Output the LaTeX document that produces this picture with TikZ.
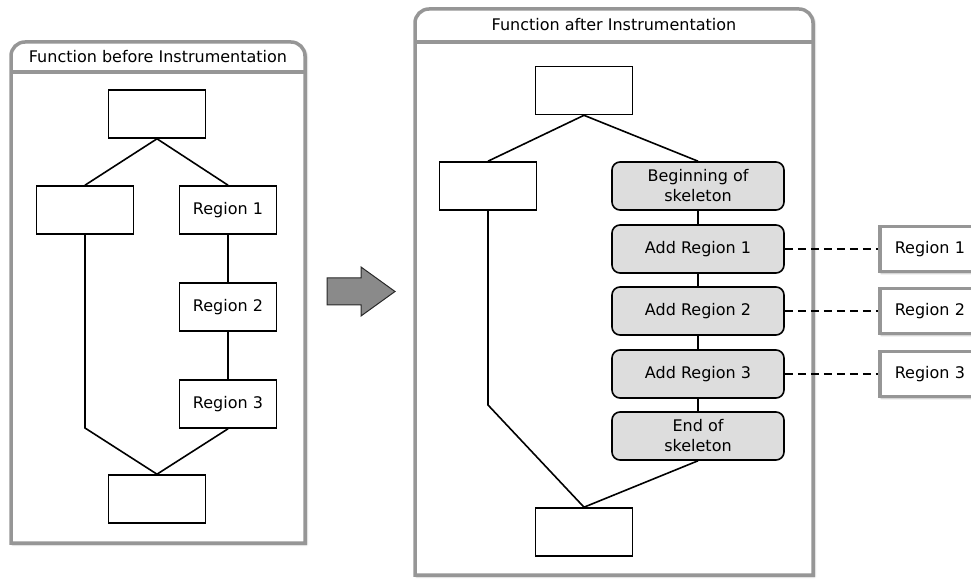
\documentclass[tikz,border=0pt]{standalone}
\usepackage{fontspec}
\setmainfont{DejaVu Sans}
\usetikzlibrary{shadows.blur}
\definecolor{framegray}{RGB}{150,150,150}
\definecolor{stepfill}{RGB}{221,221,221}
\definecolor{arrowfill}{RGB}{138,138,138}
\definecolor{arrowline}{RGB}{40,40,40}

\begin{document}
\begin{tikzpicture}[x=1pt,y=1pt,
  every node/.style={font=\fontsize{16}{20}\selectfont},
  softshadow/.style={blur shadow={shadow xshift=1.5pt, shadow yshift=-1.5pt,
      shadow blur steps=6, shadow blur radius=2pt, shadow opacity=45}},
  blockbox/.style={draw=black, line width=1.6pt, fill=white,
      minimum width=97pt, minimum height=48pt, inner sep=0pt, align=center},
  skelbox/.style={draw=black, line width=1.6pt, fill=stepfill, rounded corners=8pt,
      minimum width=172pt, minimum height=48pt, inner sep=0pt, align=center},
  extbox/.style={draw=framegray, line width=3.5pt, fill=white, softshadow,
      minimum width=112pt, minimum height=45pt, anchor=west,
      text width=82pt, inner xsep=15pt, inner ysep=0pt, align=left},
  frame/.style={draw=framegray, line width=3.5pt, fill=white, softshadow},
  divider/.style={draw=framegray, line width=3.5pt},
  flow/.style={draw=black, line width=1.6pt},
  link/.style={draw=black, line width=1.5pt, dash pattern=on 8pt off 5pt}
]
\useasboundingbox (0,0) rectangle (971,578);
\clip (0,0) rectangle (971,578);

% ---------- left frame: function before instrumentation ----------
\path[frame] (11,35) -- (11,522) arc[start angle=180,end angle=90,radius=14]
  -- (291,536) arc[start angle=90,end angle=0,radius=14] -- (305,35) -- cycle;
\draw[divider] (11,506) -- (305,506);
\node (titleA) at (158,521) {Function before Instrumentation};

\node[blockbox] (LT)  at (157,464) {};
\node[blockbox] (LL)  at (85,368)  {};
\node[blockbox] (LR1) at (228,368) {Region 1};
\node[blockbox] (LR2) at (228,271) {Region 2};
\node[blockbox] (LR3) at (228,174) {Region 3};
\node[blockbox] (LB)  at (157,79)  {};
\coordinate (lbend) at (85,150);

\draw[flow] (LT.south) -- (LL.north);
\draw[flow] (LT.south) -- (LR1.north);
\draw[flow] (LR1.south) -- (LR2.north);
\draw[flow] (LR2.south) -- (LR3.north);
\draw[flow] (LL.south) -- (lbend) -- (LB.north);
\draw[flow] (LR3.south) -- (LB.north);

% ---------- transition arrow ----------
\draw[fill=arrowfill, draw=arrowline, line width=1pt, line join=miter]
  (327,273) -- (327,300) -- (361,300) -- (361,311) -- (395,286.5)
  -- (361,262) -- (361,273) -- cycle;

% ---------- right frame: function after instrumentation ----------
\path[frame] (415,3) -- (415,555) arc[start angle=180,end angle=90,radius=14]
  -- (799,569) arc[start angle=90,end angle=0,radius=14] -- (813,3) -- cycle;
\draw[divider] (415,536) -- (813,536);
\node (titleB) at (614,553) {Function after Instrumentation};

\node[blockbox] (RT) at (584,487.5) {};
\node[blockbox] (RL) at (488,392) {};
\node[skelbox] (Beg)  at (698,392) {Beginning of\\skeleton};
\node[skelbox] (Add1) at (698,329) {Add Region 1};
\node[skelbox] (Add2) at (698,267) {Add Region 2};
\node[skelbox] (Add3) at (698,204) {Add Region 3};
\node[skelbox] (End)  at (698,142) {End of\\skeleton};
\node[blockbox] (RB) at (584,46) {};
\coordinate (rbend) at (488,173);

\draw[flow] (RT.south) -- (RL.north);
\draw[flow] (RT.south) -- (Beg.north);
\draw[flow] (Beg.south) -- (Add1.north);
\draw[flow] (Add1.south) -- (Add2.north);
\draw[flow] (Add2.south) -- (Add3.north);
\draw[flow] (Add3.south) -- (End.north);
\draw[flow] (RL.south) -- (rbend) -- (RB.north);
\draw[flow] (End.south) -- (RB.north);

% ---------- extracted regions ----------
\node[extbox] (X1) at (878,329) {Region 1};
\node[extbox] (X2) at (878,267) {Region 2};
\node[extbox] (X3) at (878,204) {Region 3};

\draw[link] (Add1.east) -- (X1.west);
\draw[link] (Add2.east) -- (X2.west);
\draw[link] (Add3.east) -- (X3.west);
\end{tikzpicture}
\end{document}
